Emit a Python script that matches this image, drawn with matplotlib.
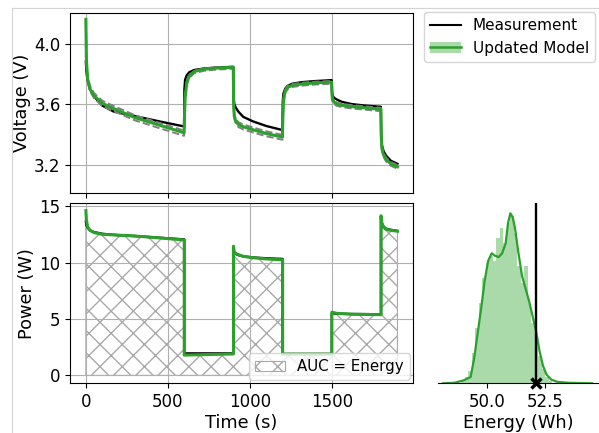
import numpy as np
import matplotlib
matplotlib.use('Agg')
from matplotlib import pyplot as plt
from matplotlib.lines import Line2D
from matplotlib.patches import Patch

# figure is drawn at dpi 200 on a half-size canvas so the hatch gets the
# same spacing as the reference; S rescales all point sizes accordingly
S = 0.5
W, H = 599, 433

# ---- voltage (V) vs time (s) ----
t_v = [0, 3, 10, 25, 50, 100, 170, 300, 450, 599,
       601, 605, 615, 630, 660, 720, 800, 899,
       901, 905, 915, 930, 960, 1020, 1100, 1199,
       1201, 1205, 1215, 1230, 1260, 1320, 1400, 1499,
       1501, 1505, 1515, 1530, 1560, 1620, 1700, 1799,
       1801, 1805, 1815, 1830, 1860, 1900]
v_meas = [3.88, 3.82, 3.76, 3.70, 3.65, 3.59, 3.55, 3.52, 3.485, 3.452,
          3.70, 3.76, 3.79, 3.81, 3.825, 3.835, 3.842, 3.846,
          3.64, 3.60, 3.575, 3.55, 3.515, 3.485, 3.455, 3.428,
          3.62, 3.67, 3.70, 3.72, 3.735, 3.745, 3.752, 3.758,
          3.68, 3.655, 3.64, 3.63, 3.615, 3.60, 3.59, 3.582,
          3.40, 3.33, 3.29, 3.26, 3.225, 3.205]
v_model = [4.16, 3.90, 3.77, 3.70, 3.655, 3.605, 3.57, 3.51, 3.46, 3.41,
           3.50, 3.64, 3.74, 3.785, 3.815, 3.83, 3.838, 3.843,
           3.60, 3.52, 3.485, 3.465, 3.45, 3.43, 3.405, 3.382,
           3.50, 3.62, 3.685, 3.71, 3.725, 3.733, 3.74, 3.745,
           3.66, 3.627, 3.612, 3.60, 3.592, 3.583, 3.575, 3.565,
           3.40, 3.31, 3.265, 3.235, 3.205, 3.185]
v_upper = [4.16, 3.91, 3.785, 3.72, 3.672, 3.622, 3.587, 3.526, 3.475, 3.425,
           3.52, 3.66, 3.75, 3.79, 3.82, 3.835, 3.842, 3.847,
           3.62, 3.54, 3.50, 3.48, 3.465, 3.445, 3.42, 3.396,
           3.52, 3.635, 3.695, 3.72, 3.733, 3.741, 3.748, 3.752,
           3.672, 3.638, 3.622, 3.61, 3.602, 3.593, 3.585, 3.575,
           3.42, 3.325, 3.277, 3.247, 3.217, 3.197]
v_lower = [4.15, 3.885, 3.755, 3.685, 3.638, 3.588, 3.553, 3.492, 3.44, 3.39,
           3.48, 3.62, 3.725, 3.772, 3.803, 3.82, 3.828, 3.833,
           3.58, 3.505, 3.468, 3.448, 3.432, 3.412, 3.387, 3.364,
           3.48, 3.605, 3.672, 3.698, 3.713, 3.722, 3.729, 3.734,
           3.648, 3.614, 3.6, 3.588, 3.58, 3.571, 3.563, 3.553,
           3.38, 3.295, 3.252, 3.222, 3.192, 3.172]

# ---- power (W) vs time (s) ----
t_p = [0, 3, 10, 25, 50, 100, 170, 300, 450, 600,
       600, 900,
       900, 905, 915, 930, 960, 1020, 1100, 1200,
       1200, 1500,
       1500, 1530, 1620, 1800,
       1800, 1805, 1815, 1830, 1860, 1900]
p_meas = [13.63, 13.3, 13.1, 12.85, 12.7, 12.55, 12.45, 12.35, 12.2, 12.05,
          1.95, 1.95,
          11.0, 10.85, 10.75, 10.65, 10.55, 10.45, 10.38, 10.32,
          1.9, 1.9,
          5.5, 5.47, 5.44, 5.42,
          13.9, 13.5, 13.2, 13.0, 12.9, 12.8]
p_model = [14.6, 13.8, 13.2, 12.85, 12.65, 12.5, 12.45, 12.35, 12.18, 12.0,
           1.8, 1.9,
           11.45, 10.95, 10.8, 10.7, 10.55, 10.42, 10.32, 10.24,
           1.88, 1.88,
           5.6, 5.5, 5.42, 5.38,
           14.15, 13.5, 13.15, 12.95, 12.85, 12.78]

# ---- energy distribution (Wh) ----
bin_left = [48.90, 49.05, 49.20, 49.35, 49.50, 49.65, 49.80, 49.95, 50.10,
            50.25, 50.40, 50.55, 50.70, 50.85, 51.00, 51.15, 51.30, 51.45,
            51.60, 51.75, 51.90, 52.05, 52.20, 52.35, 52.50, 52.65]
bin_width = 0.15
bin_density = [0.012, 0.024, 0.048, 0.12, 0.22, 0.32, 0.42, 0.48, 0.51,
               0.49, 0.58, 0.62, 0.56, 0.64, 0.67, 0.60, 0.47, 0.40,
               0.47, 0.32, 0.24, 0.18, 0.11, 0.056, 0.024, 0.008]
kde_x = [48.12, 48.6, 49.0, 49.3, 49.45, 49.6, 49.75, 49.9, 50.05, 50.2,
         50.35, 50.5, 50.65, 50.8, 50.9, 51.0, 51.1, 51.2, 51.35, 51.5,
         51.65, 51.8, 51.95, 52.1, 52.25, 52.4, 52.55, 52.75, 53.0, 53.5,
         54.5]
kde_y = [0.0, 0.002, 0.012, 0.025, 0.1, 0.2, 0.3, 0.41, 0.49, 0.52,
         0.51, 0.505, 0.52, 0.56, 0.64, 0.68, 0.665, 0.62, 0.52, 0.43,
         0.38, 0.33, 0.27, 0.21, 0.13, 0.07, 0.035, 0.015, 0.006, 0.002,
         0.0]
energy_meas = 52.1

green = '#2ca02c'
plt.rcParams.update({
    'font.size': 12 * S,
    'axes.labelsize': 12.8 * S,
    'axes.linewidth': 0.8 * S,
    'axes.labelpad': 2.5 * S,
    'xtick.major.size': 3.5 * S, 'ytick.major.size': 3.5 * S,
    'xtick.major.width': 0.8 * S, 'ytick.major.width': 0.8 * S,
    'xtick.major.pad': 3.5 * S, 'ytick.major.pad': 3.5 * S,
    'grid.linewidth': 0.8 * S,
    'patch.linewidth': 1.0 * S,
    'hatch.linewidth': 1.0 * S,
})

fig = plt.figure(figsize=(W / 200, H / 200), dpi=200)

def box(x0, y0, x1, y1):
    # pixel box (top-left origin) -> figure fraction rect
    return [x0 / W, 1 - y1 / H, (x1 - x0) / W, (y1 - y0) / H]

ax_v = fig.add_axes(box(70.3, 13.3, 413, 193.3))
ax_p = fig.add_axes(box(70.3, 203.3, 413, 383.3), sharex=ax_v)
ax_h = fig.add_axes(box(438, 203.3, 599, 383.3))

# voltage
ax_v.plot(t_v, v_meas, color='black', lw=1.7 * S)
ax_v.plot(t_v, v_upper, color='gray', ls='--', lw=1.4 * S)
ax_v.plot(t_v, v_lower, color='gray', ls='--', lw=1.4 * S)
ax_v.plot(t_v, v_model, color=green, lw=2.2 * S)
ax_v.set_ylim(3.01, 4.2)
ax_v.set_yticks([3.2, 3.6, 4.0])
ax_v.set_ylabel('Voltage (V)')
ax_v.grid(True)
ax_v.tick_params(labelbottom=False)

# power
ax_p.fill_between(t_p, p_meas, 0, facecolor='none', edgecolor='darkgray',
                  hatch='xxx', lw=0.8 * S, label='AUC = Energy')
ax_p.plot(t_p, p_meas, color='black', lw=1.7 * S)
ax_p.plot(t_p, p_model, color=green, lw=2.2 * S)
ax_p.set_ylim(-0.7, 15.25)
ax_p.set_yticks([0, 5, 10, 15])
ax_p.set_xlim(-95, 1995)
ax_p.set_xticks([0, 500, 1000, 1500])
ax_p.set_xlabel('Time (s)')
ax_p.set_ylabel('Power (W)')
ax_p.grid(True)
ax_p.legend(loc='lower right', fontsize=10.8 * S, borderaxespad=0.2)

# energy histogram
ax_h.bar(bin_left, bin_density, width=bin_width, align='edge',
         color=green, alpha=0.4, lw=0)
ax_h.plot(kde_x, kde_y, color=green, lw=1.6 * S)
ax_h.axvline(energy_meas, color='black', lw=1.7 * S)
ax_h.plot([energy_meas], [0], marker='x', color='black', ms=7 * S,
          mew=2.5 * S, clip_on=False)
ax_h.set_xlim(47.9, 54.8)
ax_h.set_ylim(0, 0.72)
ax_h.set_xticks([50.0, 52.5])
ax_h.set_yticks([])
ax_h.set_xlabel('Energy (Wh)')
for side in ['left', 'top', 'right']:
    ax_h.spines[side].set_visible(False)

handles = [Line2D([], [], color='black', lw=1.5 * S),
           (Patch(facecolor=green, alpha=0.4, lw=0),
            Line2D([], [], color=green, lw=1.8 * S))]
fig.legend(handles, ['Measurement', 'Updated Model'], loc='upper left',
           bbox_to_anchor=(424 / W, 1 - 12 / H), borderaxespad=0,
           fontsize=11 * S)

# light frame from the original page
fx, fy = 11.7 / W, 1 - 8.3 / H
fig.add_artist(Line2D([fx, fx], [0, fy], color='#d4d4d4', lw=0.4))
fig.add_artist(Line2D([fx, 1], [fy, fy], color='#d4d4d4', lw=0.4))

fig.savefig('out.png', dpi=200)
